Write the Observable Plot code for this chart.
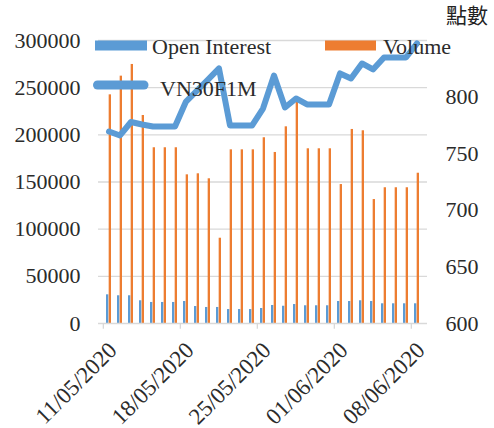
<!DOCTYPE html>
<html>
<head>
<meta charset="utf-8">
<script src="https://cdn.jsdelivr.net/npm/d3@7"></script>
<script src="https://cdn.jsdelivr.net/npm/@observablehq/plot@0.6"></script>
<style>
  html, body { margin: 0; padding: 0; background: #fff; }
</style>
</head>
<body>
<div id="chart"></div>
<script>
const dates = [
  "11/05/2020","12/05/2020","13/05/2020","14/05/2020","15/05/2020","16/05/2020","17/05/2020",
  "18/05/2020","19/05/2020","20/05/2020","21/05/2020","22/05/2020","23/05/2020","24/05/2020",
  "25/05/2020","26/05/2020","27/05/2020","28/05/2020","29/05/2020","30/05/2020","31/05/2020",
  "01/06/2020","02/06/2020","03/06/2020","04/06/2020","05/06/2020","06/06/2020","07/06/2020",
  "08/06/2020"
];
const openInterest = [30400,29400,29400,24100,22300,22300,22300,23300,18000,17000,17000,14800,14800,14800,15900,19100,18300,20100,18800,18800,18800,23300,23300,24100,23300,20900,20900,20900,20900];
const volume = [242400,262200,274600,220500,186300,186300,186300,157600,158700,153400,90400,184100,184100,184100,196900,181300,208500,234300,185200,185200,185200,147300,205700,204300,131400,143900,143900,143900,159300];
const vn30f1m = [769.6,766.1,778.0,775.8,774.0,774.0,774.0,796.1,805.8,815.5,825.3,774.9,774.9,774.9,789.9,819.1,790.8,798.8,793.5,793.5,793.5,820.9,816.4,829.7,824.4,835.0,835.0,835.0,847.4];
const leftTicks = [0,50000,100000,150000,200000,250000,300000];
const rightTicks = [600,650,700,750,800];
const rightDomain = [600,850];
const labelDates = ["11/05/2020","18/05/2020","25/05/2020","01/06/2020","08/06/2020"];
const seriesNames = ["Open Interest","Volume","VN30F1M"];
const rightTitle = "點數";

const W = 494, H = 428;
const mL = 98, mR = 67, mT = 40, mB = 105;
const leftMax = leftTicks[leftTicks.length - 1];
const k = leftMax / (rightDomain[1] - rightDomain[0]);
const toLeft = v => (v - rightDomain[0]) * k;
const bw = (W - mL - mR) / dates.length;

const rows = dates.map((d, i) => ({date: d, oi: openInterest[i], vol: volume[i], vn: vn30f1m[i]}));
const blue = "#5b9bd5", orange = "#ed7d31", grid = "#d9d9d9", ink = "#2b2b2b";

const chart = Plot.plot({
  width: W, height: H,
  marginLeft: mL, marginRight: mR, marginTop: mT, marginBottom: mB,
  style: {fontFamily: "Liberation Serif", fontSize: "22px", background: "#fff", color: ink},
  x: {type: "band", domain: dates, padding: 0, axis: null},
  y: {domain: [0, leftMax], axis: null},
  marks: [
    Plot.gridY({ticks: leftTicks.slice(1), stroke: grid, strokeOpacity: 1, strokeWidth: 1.3}),
    Plot.barY(rows, {x: "date", y: "oi", fill: blue, insetLeft: bw * 0.265, insetRight: bw * 0.5}),
    Plot.barY(rows, {x: "date", y: "vol", fill: orange, insetLeft: bw * 0.5, insetRight: bw * 0.265}),
    Plot.ruleY([0], {stroke: grid, strokeWidth: 1.3}),
    Plot.ruleX(labelDates, {x: d => d, y1: () => 0, y2: () => -leftMax * 0.02, stroke: grid, strokeWidth: 1.3, dx: -bw / 2}),
    Plot.line(rows, {x: "date", y: d => toLeft(d.vn), stroke: blue, strokeWidth: 6, strokeLinejoin: "round", strokeLinecap: "round"}),
    Plot.axisY({anchor: "left", ticks: leftTicks, tickFormat: d => String(d), tickSize: 0, tickPadding: 18, fontSize: 22, fill: ink}),
    Plot.axisY({anchor: "right", ticks: rightTicks.map(toLeft), tickFormat: d => String(Math.round(d / k + rightDomain[0])), tickSize: 0, tickPadding: 18, fontSize: 22, fill: ink}),
    Plot.text(labelDates, {x: d => d, y: () => 0, text: d => d, rotate: -45, textAnchor: "end", dx: 4, dy: 23, fontSize: 23, fill: ink})
  ]
});

const svg = d3.select(chart);
const lg = svg.append("g").attr("font-family", "Liberation Serif").attr("font-size", 22)
  .attr("fill", ink).attr("text-anchor", "start");
lg.append("rect").attr("x", 95).attr("y", 40.5).attr("width", 52).attr("height", 10).attr("fill", blue);
lg.append("text").attr("x", 152).attr("y", 53.5).text(seriesNames[0]);
lg.append("rect").attr("x", 325).attr("y", 40.5).attr("width", 51).attr("height", 10).attr("fill", orange);
lg.append("text").attr("x", 383).attr("y", 53.5).text(seriesNames[1]);
lg.append("line").attr("x1", 97.5).attr("x2", 144).attr("y1", 85).attr("y2", 85)
  .attr("stroke", blue).attr("stroke-width", 9).attr("stroke-linecap", "round");
lg.append("text").attr("x", 160).attr("y", 96).text(seriesNames[2]);
svg.append("text").attr("x", 446).attr("y", 23).attr("text-anchor", "start").attr("font-family", "Noto Sans CJK TC")
  .attr("font-size", 21).attr("fill", "#222").text(rightTitle);

document.getElementById("chart").appendChild(chart);
</script>
</body>
</html>
